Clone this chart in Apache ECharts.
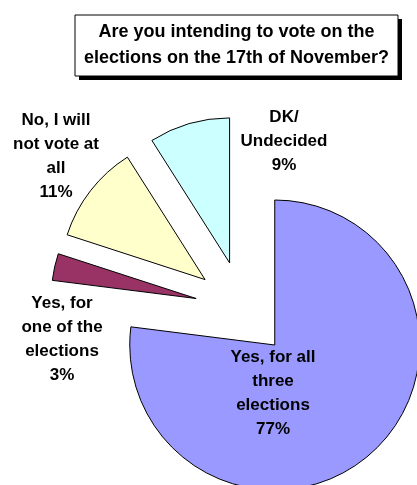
<!DOCTYPE html>
<html><head><meta charset="utf-8">
<script src="https://cdn.jsdelivr.net/npm/echarts@6/dist/echarts.min.js"></script>
<style>html,body{margin:0;padding:0;background:#fff}#c{width:417px;height:485px}</style>
</head><body><div id="c"></div>
<script>
// Data
const categories = ['Yes, for all\nthree\nelections', 'Yes, for\none of the\nelections', 'No, I will\nnot vote at\nall', 'DK/\nUndecided'];
const values = [77, 3, 11, 9];
const titleLines = ['Are you intending to vote on the', 'elections on the 17th of November?'];

// Styles / layout
const colors = ['#9999FF', '#993366', '#FFFFCC', '#CCFFFF'];
const labelPos = [[273, 393], [62, 339], [56, 156], [284, 141]];
const FONT = '"Liberation Sans", Arial, sans-serif';

const labelTexts = categories.map((c, i) => ({
  type: 'text', x: labelPos[i][0], y: labelPos[i][1], z: 20,
  style: {text: c + '\n' + values[i] + '%', fontFamily: FONT, fontWeight: 'bold', fontSize: 17, lineHeight: 24,
          fill: '#000', align: 'center', verticalAlign: 'middle'}
}));

const chart = echarts.init(document.getElementById('c'), null, {renderer: 'canvas'});
chart.setOption({
  animation: false,
  backgroundColor: '#ffffff',
  graphic: [
    {type: 'rect', shape: {x: 79, y: 19, width: 323, height: 61}, style: {fill: '#000'}, z: 10},
    {type: 'rect', shape: {x: 75, y: 15, width: 323, height: 61}, style: {fill: '#fff', stroke: '#000', lineWidth: 1}, z: 11},
    {type: 'text', x: 236.5, y: 45, z: 12,
     style: {text: titleLines.join('\n'), fontFamily: FONT, fontWeight: 'bold', fontSize: 18, lineHeight: 26,
             fill: '#000', align: 'center', verticalAlign: 'middle'}}
  ].concat(labelTexts),
  series: [{
    type: 'pie',
    center: [243, 309],
    radius: 145,
    startAngle: 90,
    clockwise: true,
    selectedMode: 'multiple',
    selectedOffset: 48,
    avoidLabelOverlap: false,
    emphasis: {disabled: true},
    itemStyle: {borderColor: '#000', borderWidth: 1},
    data: values.map((v, i) => ({name: categories[i], value: v, selected: true, itemStyle: {color: colors[i]}})),
    label: {show: false},
    labelLine: {show: false}
  }]
});
</script>
</body></html>
